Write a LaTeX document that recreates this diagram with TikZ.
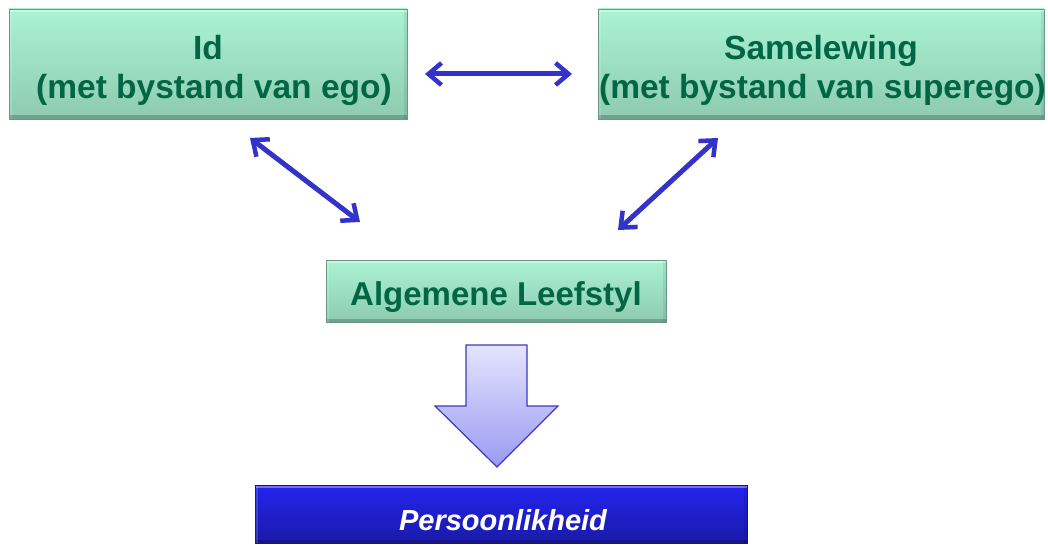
\documentclass[tikz,border=0pt]{standalone}
\usepackage{fontspec}
\setmainfont{Liberation Sans}
\usetikzlibrary{arrows.meta}
\definecolor{gtop}{HTML}{AAF3D4}
\definecolor{gbot}{HTML}{8ECAB0}
\definecolor{gtext}{HTML}{006644}
\definecolor{arrowblue}{HTML}{3333CC}
\definecolor{btop}{HTML}{2424F0}
\definecolor{bbot}{HTML}{1A1AA8}
\definecolor{atop}{HTML}{E4E4FF}
\definecolor{abot}{HTML}{9A9AF2}
\definecolor{aedge}{HTML}{3A3AC0}
\tikzset{
  bevel/.style={path picture={
      \fill[black, opacity=0.2] (path picture bounding box.south west) rectangle ([yshift=3.5pt]path picture bounding box.south east);
      \fill[black, opacity=0.07] (path picture bounding box.south east) rectangle ([xshift=-3pt]path picture bounding box.north east);
      \fill[white, opacity=0.35] (path picture bounding box.north west) rectangle ([yshift=-3pt]path picture bounding box.north east);
      \fill[white, opacity=0.15] (path picture bounding box.north west) rectangle ([xshift=3pt]path picture bounding box.south west);
  }},
  greenbox/.style={draw=gbot!75!black, line width=0.6pt, top color=gtop, bottom color=gbot, bevel, inner sep=0pt},
  greentext/.style={text=gtext, font=\fontsize{33.5}{39}\selectfont\bfseries, align=center, inner sep=0pt},
  bluebox/.style={draw=bbot!80!black, line width=0.6pt, top color=btop, bottom color=bbot, bevel, inner sep=0pt},
  bluetext/.style={text=white, font=\fontsize{29}{34}\selectfont\bfseries\itshape, inner sep=0pt},
  dbl/.style={draw=arrowblue, line width=5pt, {Straight Barb[length=13pt,width=22pt,line width=4.5pt]}-{Straight Barb[length=13pt,width=22pt,line width=4.5pt]}},
}
\begin{document}
\begin{tikzpicture}[x=1pt,y=-1pt]
\useasboundingbox (0,0) rectangle (1048,545);
\node[greenbox, minimum width=398pt, minimum height=110pt] (idbox) at (208,64) {};
\node[greentext] (id) at (208,70) {Id\\\hspace*{12pt}(met bystand van ego)};
\node[greenbox, minimum width=446pt, minimum height=110pt] (sambox) at (821,64) {};
\node[greentext] (sam) at (821,70) {Samelewing\\\hspace*{3pt}(met bystand van superego)};
\node[greenbox, minimum width=340pt, minimum height=62pt] (algbox) at (496,291) {};
\node[greentext, font=\fontsize{33}{39}\selectfont\bfseries] (alg) at (496,297) {Algemene Leefstyl};
\node[bluebox, minimum width=492pt, minimum height=58pt] (perbox) at (501,514) {};
\node[bluetext] (per) at (503,520) {Persoonlikheid};
\coordinate (h1) at (425,74);
\coordinate (h2) at (572,74);
\coordinate (l1) at (250,138);
\coordinate (l2) at (360,222);
\coordinate (r1) at (718,138);
\coordinate (r2) at (618,230);
\draw[dbl] (h1) -- (h2);
\draw[dbl] (l1) -- (l2);
\draw[dbl] (r1) -- (r2);
\shade[top color=atop, bottom color=abot, draw=aedge, line width=1.2pt, line join=miter]
  (466,345) -- (527,345) -- (527,406) -- (558,406) -- (497,467) -- (435,406) -- (466,406) -- cycle;
\end{tikzpicture}
\end{document}
